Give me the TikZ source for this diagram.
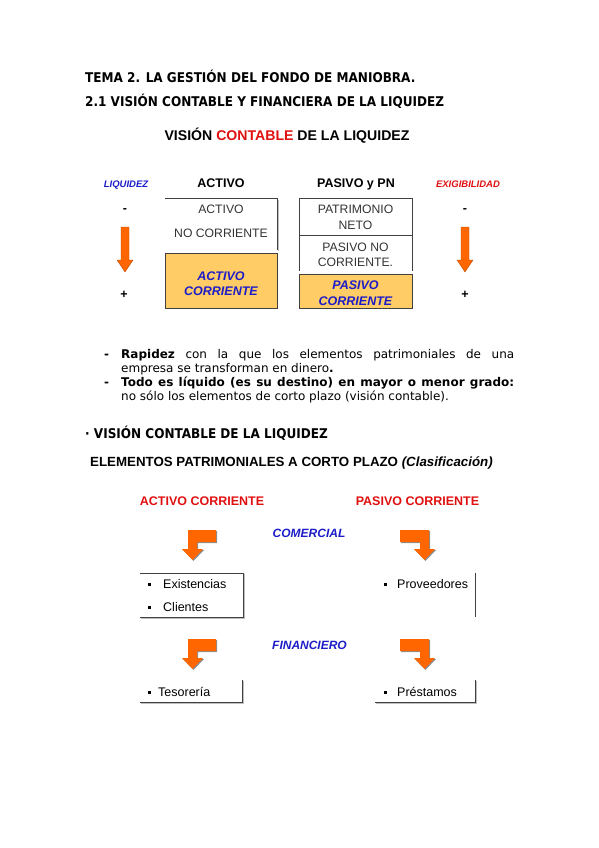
\documentclass[tikz,border=0pt]{standalone}
\usepackage{fontspec}
\setmainfont{DejaVu Sans}
\newfontfamily\arialfont{Liberation Sans}
\newfontfamily\cabfont{DejaVu Sans Condensed Bold}
\usepackage{xcolor}
\definecolor{naranja}{HTML}{FF6600}
\definecolor{crema}{HTML}{FFCC66}
\definecolor{azul}{HTML}{1C1CC8}
\definecolor{rojo}{HTML}{E01010}
\definecolor{borde}{HTML}{404040}
\definecolor{grisTxt}{HTML}{333333}

\begin{document}
\begin{tikzpicture}[x=1pt,y=-1pt,
    txt/.style={anchor=base west,inner sep=0pt},
    cab/.style={anchor=base west,inner sep=0pt,font=\cabfont\fontsize{13.4}{16}\selectfont},
    cuerpo/.style={anchor=base west,inner sep=0pt,font=\fontsize{12}{14}\selectfont},
    etq/.style={anchor=base,inner sep=0pt,font=\arialfont\bfseries\fontsize{12.5}{14}\selectfont},
    lado/.style={anchor=base,inner sep=0pt,font=\arialfont\bfseries\itshape\fontsize{9.5}{11}\selectfont},
    caja/.style={anchor=base,inner sep=0pt,text=grisTxt,font=\arialfont\fontsize{12.2}{14}\selectfont},
    cajaAz/.style={anchor=base,inner sep=0pt,text=azul,font=\arialfont\bfseries\itshape\fontsize{12.5}{14}\selectfont},
    item/.style={anchor=base west,inner sep=0pt,font=\arialfont\fontsize{12.5}{14}\selectfont},
    linea/.style={borde,line width=0.8pt},
    sombra/.style={black!25,line width=1.2pt},
    flecha/.style={fill=naranja,draw=naranja!70!black,line width=0.4pt}]
    \useasboundingbox (0,0) rectangle (599,848);

    % Titulos
    \node[cab] (tema) at (85,83) {TEMA 2. LA GESTIÓN DEL FONDO DE MANIOBRA.};
    \node[cab] (sub) at (85,106.5) {2.1 VISIÓN CONTABLE Y FINANCIERA DE LA LIQUIDEZ};
    \node[anchor=base,inner sep=0pt,font=\arialfont\bfseries\fontsize{14.1}{16}\selectfont]
        (vision) at (287,140) {VISIÓN \textcolor{rojo}{CONTABLE} DE LA LIQUIDEZ};

    % Cabeceras del balance
    \node[lado,text=azul] (liq) at (126,187) {LIQUIDEZ};
    \node[etq] (hAct) at (221,187) {ACTIVO};
    \node[etq] (hPas) at (356,187) {PASIVO y PN};
    \node[lado,text=rojo] (exig) at (468,187) {EXIGIBILIDAD};

    \node[etq] (menosL) at (125,212) {-};
    \node[etq] (masL) at (124,298) {+};
    \node[etq] (menosR) at (465,212) {-};
    \node[etq] (masR) at (465,298) {+};

    % Flechas de orden
    \foreach \x in {125,465} {
        \draw[flecha] (\x-4,227) -- (\x+4,227) -- (\x+4,260) -- (\x+8,260)
            -- (\x,272) -- (\x-8,260) -- (\x-4,260) -- cycle;
    }

    % Activo
    \draw[sombra] (278.5,200) -- (278.5,251);
    \draw[linea] (165,198) -- (277,198) -- (277,250);
    \node[caja] (anc1) at (221,213) {ACTIVO};
    \node[caja] (anc2) at (221,237.5) {NO CORRIENTE};
    \draw[linea,fill=crema] (165,253) rectangle (277,308);
    \node[cajaAz] (ac1) at (221,280) {ACTIVO};
    \node[cajaAz] (ac2) at (221,295) {CORRIENTE};

    % Pasivo y PN
    \draw[linea] (299,271) -- (299,198) -- (412,198) -- (412,271);
    \draw[linea] (299,235) -- (412,235);
    \node[caja] (pn1) at (355.5,213) {PATRIMONIO};
    \node[caja] (pn2) at (355.5,229) {NETO};
    \node[caja] (pnc1) at (355.5,251) {PASIVO NO};
    \node[caja] (pnc2) at (355.5,266) {CORRIENTE.};
    \draw[linea,fill=crema] (299,274) rectangle (412,308);
    \node[cajaAz] (pc1) at (355.5,289) {PASIVO};
    \node[cajaAz] (pc2) at (355.5,305) {CORRIENTE};

    % Texto
    \node[cuerpo] (guion1) at (104,358) {\textbf{-}};
    \node[cuerpo] (lin1) at (121,358)
        {\makebox[393pt][s]{\textbf{Rapidez} con la que los elementos patrimoniales de una}};
    \node[cuerpo] (lin2) at (121,372) {empresa se transforman en dinero\textbf{.}};
    \node[cuerpo] (guion2) at (104,386) {\textbf{-}};
    \node[cuerpo] (lin3) at (121,386)
        {\makebox[393pt][s]{\textbf{Todo es líquido (es su destino) en mayor o menor grado:}}};
    \node[cuerpo] (lin4) at (121,400) {no sólo los elementos de corto plazo (visión contable).};

    % Segunda parte
    \node[cab] (vision2) at (85,438) {· VISIÓN CONTABLE DE LA LIQUIDEZ};
    \node[anchor=base west,inner sep=0pt,font=\arialfont\bfseries\fontsize{13.3}{16}\selectfont]
        (elem) at (90,466) {ELEMENTOS PATRIMONIALES A CORTO PLAZO \textit{(Clasificación)}};

    \node[etq,text=rojo] (acTit) at (202,505) {ACTIVO CORRIENTE};
    \node[etq,text=rojo] (pcTit) at (417.5,505) {PASIVO CORRIENTE};
    \node[cajaAz,font=\arialfont\bfseries\itshape\fontsize{12}{14}\selectfont] (com) at (309,537) {COMERCIAL};
    \node[cajaAz,font=\arialfont\bfseries\itshape\fontsize{12}{14}\selectfont] (fin) at (309.5,649) {FINANCIERO};

    % Flechas acodadas
    \foreach \y in {530,639} {
        \fill[black!45] (189,\y+1) -- (217,\y+1) -- (217,\y+13) -- (198,\y+13) -- (198,\y+20)
            -- (204,\y+20) -- (193.5,\y+31) -- (183,\y+20) -- (189,\y+20) -- cycle;
        \fill[naranja] (188,\y) -- (216,\y) -- (216,\y+12) -- (197,\y+12) -- (197,\y+19)
            -- (203,\y+19) -- (192.5,\y+30) -- (182,\y+19) -- (188,\y+19) -- cycle;
        \fill[black!45] (401,\y+1) -- (430,\y+1) -- (430,\y+20) -- (436,\y+20) -- (425.5,\y+31)
            -- (415,\y+20) -- (421,\y+20) -- (421,\y+13) -- (401,\y+13) -- cycle;
        \fill[naranja] (400,\y) -- (429,\y) -- (429,\y+19) -- (435,\y+19) -- (424.5,\y+30)
            -- (414,\y+19) -- (420,\y+19) -- (420,\y+12) -- (400,\y+12) -- cycle;
    }

    % Cajas de elementos
    \draw[sombra] (141,618.5) -- (244.5,618.5) -- (244.5,574);
    \draw[linea] (140,573) -- (243,573) -- (243,617) -- (140,617);
    \fill (148,583) rectangle (151,586);
    \node[item] (exist) at (163,588) {Existencias};
    \fill (148,606) rectangle (151,609);
    \node[item] (clien) at (163,611) {Clientes};

    \draw[linea] (475,573) -- (475,617);
    \fill (384,583) rectangle (387,586);
    \node[item] (prov) at (397,588) {Proveedores};

    \draw[sombra] (141,703.5) -- (243.5,703.5) -- (243.5,681);
    \draw[linea] (242,680) -- (242,702) -- (140,702);
    \fill (148,691) rectangle (151,694);
    \node[item] (teso) at (158,696) {Tesorería};

    \draw[sombra] (376,703.5) -- (476.5,703.5) -- (476.5,681);
    \draw[linea] (475,680) -- (475,702) -- (375,702);
    \fill (384,691) rectangle (387,694);
    \node[item] (prest) at (397,696) {Préstamos};
\end{tikzpicture}
\end{document}
